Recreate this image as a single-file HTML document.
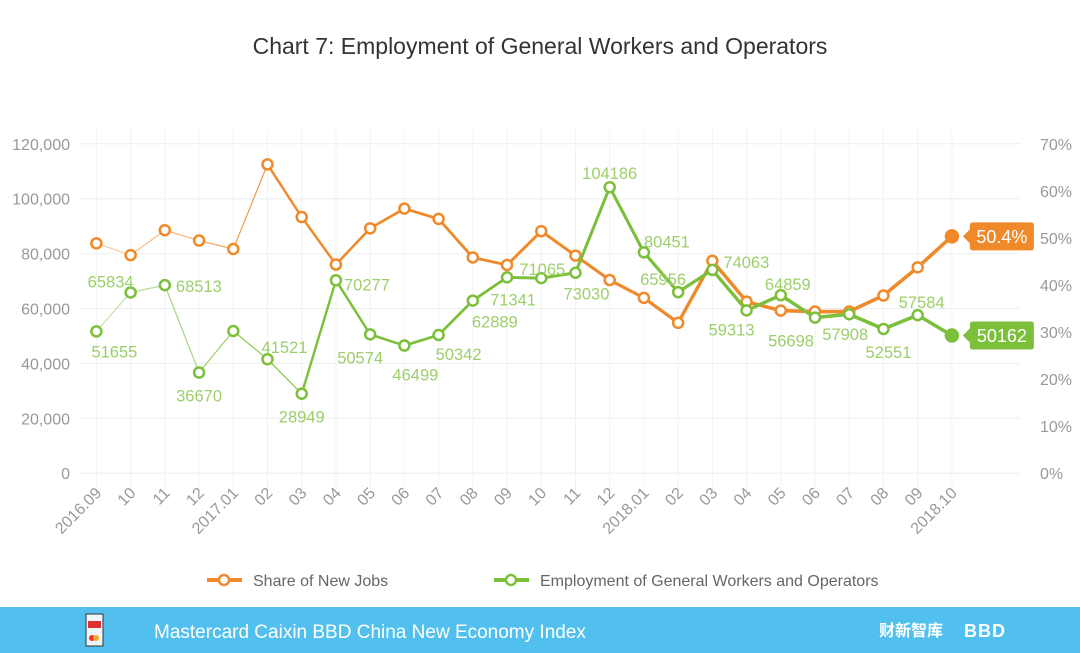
<!DOCTYPE html>
<html><head><meta charset="utf-8">
<style>
body{margin:0;width:1080px;height:653px;background:#fff;overflow:hidden;font-family:"Liberation Sans","Noto Sans CJK SC",sans-serif;}
svg{display:block}
</style></head>
<body>
<svg id="chart" width="1080" height="653" viewBox="0 0 1080 653">
<text x="540" y="54" text-anchor="middle" font-size="23" fill="#333">Chart 7: Employment of General Workers and Operators</text>
<g id="grid"></g>
<g id="axes"></g>
<g id="series"></g>
<g>
 <g>
  <line x1="207" y1="580" x2="242" y2="580" stroke="#f0892a" stroke-width="4"/>
  <circle cx="224" cy="580" r="5" fill="#fff" stroke="#f0892a" stroke-width="2.5"/>
  <text x="253" y="586" font-size="16" fill="#666">Share of New Jobs</text>
 </g>
 <g>
  <line x1="494" y1="580" x2="529" y2="580" stroke="#7bbf3a" stroke-width="4"/>
  <circle cx="511" cy="580" r="5" fill="#fff" stroke="#7bbf3a" stroke-width="2.5"/>
  <text x="540" y="586" font-size="16" fill="#666">Employment of General Workers and Operators</text>
 </g>
</g>
<g>
 <rect x="0" y="607" width="1080" height="46" fill="#52c0ee"/>
 <g>
  <rect x="86" y="614" width="17" height="32" fill="#eef6fb" stroke="#333" stroke-width="1"/>
  <rect x="88" y="621" width="13" height="7" fill="#d33"/>
  <circle cx="92" cy="638" r="3" fill="#e33"/><circle cx="96" cy="638" r="3" fill="#f5a623"/>
 </g>
 <text x="154" y="638" font-size="19" fill="#fff">Mastercard Caixin BBD China New Economy Index</text>
 <text x="879" y="636" font-size="16" font-weight="bold" fill="#fff" font-family="'Noto Sans CJK SC',sans-serif">财新智库</text>
 <text x="964" y="637" font-size="18" font-weight="bold" fill="#fff" letter-spacing="1">BBD</text>
</g>
</svg>
<script>
const categories=["2016.09","10","11","12","2017.01","02","03","04","05","06","07","08","09","10","11","12","2018.01","02","03","04","05","06","07","08","09","2018.10"];
const employment=[51655,65834,68513,36670,51800,41521,28949,70277,50574,46499,50342,62889,71341,71065,73030,104186,80451,65956,74063,59313,64859,56698,57908,52551,57584,50162];
const share=[48.9,46.4,51.7,49.5,47.7,65.7,54.5,44.4,52.1,56.3,54.1,45.9,44.3,51.5,46.3,41.1,37.3,32.0,45.2,36.5,34.6,34.4,34.4,37.8,43.8,50.4];
const leftTicks=[0,20000,40000,60000,80000,100000,120000];
const rightTicks=[0,10,20,30,40,50,60,70];
// label layout offsets (pixels, relative to the point); null = no label
const labelDX=[18,-20,34,0,null,17,0,31,-10,11,20,22,6,1,11,0,23,-15,34,-15,7,-24,-4,5,4,null];
const labelDY=[26,-5,7,29,null,-6,29,10,29,35,25,27,28,-3,27,-8,-5,-7,-2,25,-5,29,26,29,-7,null];

const NS="http://www.w3.org/2000/svg";
const X0=96.4, DX=34.22, Y0=473.2;
const x=i=>X0+i*DX;
const yL=v=>Y0-v/20000*54.9;
const yR=p=>Y0-p/10*47;
function mk(tag,attrs,parent){const e=document.createElementNS(NS,tag);for(const k in attrs)e.setAttribute(k,attrs[k]);parent.appendChild(e);return e;}
const grid=document.getElementById('grid'),axes=document.getElementById('axes'),series=document.getElementById('series');

leftTicks.forEach((t,i)=>{
 const gl=mk('line',{x1:80,x2:1020,y1:yL(t),y2:yL(t),stroke:'#eeeeee','stroke-width':1},grid);
 
 
 const tx=mk('text',{x:70,y:yL(t)+6,'text-anchor':'end','font-size':16,fill:'#999'},axes);
 tx.textContent=t.toLocaleString('en-US');
 
 
});
rightTicks.forEach(t=>{
 const tx=mk('text',{x:1040,y:yR(t)+6,'font-size':16,fill:'#999'},axes);
 tx.textContent=t+'%';
 
 
});
categories.forEach((c,i)=>{
 const gl=mk('line',{x1:x(i),x2:x(i),y1:130,y2:490,stroke:'#f2f2f2','stroke-width':1},grid);
 
 
 const tx=mk('text',{x:x(i)+6,y:494,'text-anchor':'end','font-size':16,fill:'#999',transform:`rotate(-45 ${x(i)+6} 494)`},axes);
 tx.textContent=c;
 
 
});

function drawSeries(vals,yf,color,name,thinUntil,labels){
 const g=mk('g',{},series);
 
 
 for(let i=0;i<vals.length-1;i++){
  const thin=i<thinUntil;
  const w=thin?1.2:Math.min(3.6,2.4+(i-thinUntil)*0.08);
  const l=mk('line',{x1:x(i),y1:yf(vals[i]),x2:x(i+1),y2:yf(vals[i+1]),stroke:color,'stroke-width':w,'stroke-opacity':thin?Math.min(1,0.45+i*0.1):1,'stroke-linecap':'round'},g);
  
  
 }
 vals.forEach((v,i)=>{
  const last=i===vals.length-1;
  const c=mk('circle',{cx:x(i),cy:yf(v),r:last?6:5,fill:last?color:'#fff',stroke:color,'stroke-width':2.5},g);
  
  
  if(labels&&labelDX[i]!==null){
   const t=mk('text',{x:x(i)+labelDX[i],y:yf(v)+labelDY[i],'text-anchor':'middle','font-size':16.5,fill:'#9ccf6a'},g);
   t.textContent=v;
   
   
  }
 });
}
drawSeries(share,yR,'#f0892a','share',5,false);
drawSeries(employment,yL,'#7bbf3a','employment',6,true);

function badge(val,yv,color,name){
 const bx=x(categories.length-1)+18,by=yv-14,bw=64,bh=28;
 const g=mk('g',{},series);
 
 
 mk('path',{d:`M${bx-7} ${yv} L${bx} ${yv-7} L${bx} ${by+3} Q${bx} ${by} ${bx+3} ${by} L${bx+bw-3} ${by} Q${bx+bw} ${by} ${bx+bw} ${by+3} L${bx+bw} ${by+bh-3} Q${bx+bw} ${by+bh} ${bx+bw-3} ${by+bh} L${bx+3} ${by+bh} Q${bx} ${by+bh} ${bx} ${by+bh-3} L${bx} ${yv+7} Z`,fill:color},g);
 const t=mk('text',{x:bx+bw/2,y:yv+6.5,'text-anchor':'middle','font-size':18,fill:'#fff'},g);
 t.textContent=val;
}
badge(share[share.length-1]+'%',yR(share[share.length-1]),'#f0892a','share-last-badge');
badge(employment[employment.length-1],yL(employment[employment.length-1]),'#7bbf3a','employment-last-badge');
</script>
</body></html>
